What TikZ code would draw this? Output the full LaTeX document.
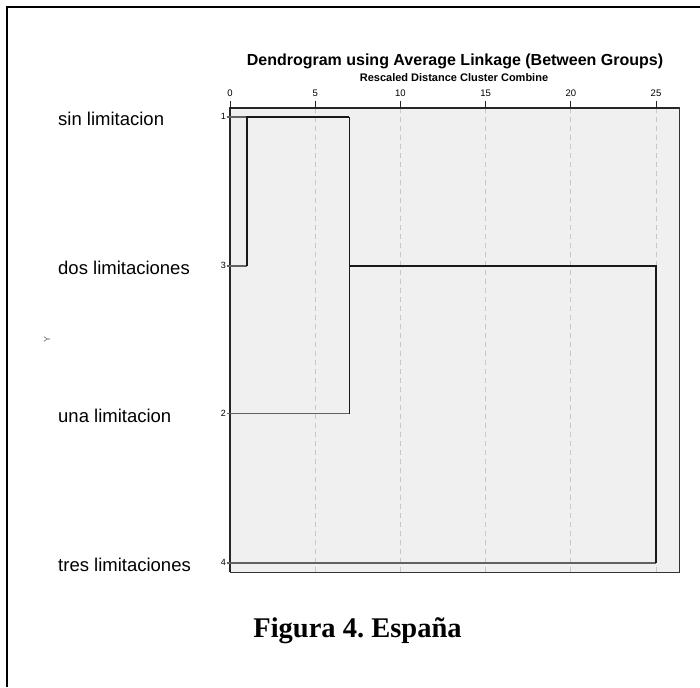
\documentclass[tikz,border=0pt]{standalone}
\usepackage{fontspec}
\setmainfont{Liberation Sans}
\newfontfamily\serifcap{Liberation Serif}
\definecolor{plotbg}{HTML}{F0F0F0}
\frenchspacing
\begin{document}
\begin{tikzpicture}[x=1pt,y=-1pt,
  leafline/.style={draw=black!62, line width=1.3pt},
  clusterline/.style={draw=black!90, line width=1.5pt},
  gridline/.style={draw=black!22, dash pattern=on 5pt off 4pt, line width=0.8pt},
  rowlabel/.style={anchor=base west, inner sep=0pt, font=\fontsize{18.5}{20}\selectfont},
  leafnum/.style={anchor=east, inner sep=0pt, font=\fontsize{9}{10}\selectfont},
  ticklabel/.style={anchor=base, inner sep=0pt, font=\fontsize{9.5}{10}\selectfont},
  tickmark/.style={draw=black!85, line width=1pt}]
\useasboundingbox (0,0) rectangle (700,687);
\fill[white] (0,0) rectangle (700,687);
% outer frame (top and left only)
\draw[line width=2.2pt] (7,687) -- (7,7) -- (700,7);

% plot area
\fill[plotbg] (230,108) rectangle (679,572);
\draw[black!80, line width=1pt] (230,108) rectangle (679,572);
\foreach \k in {5,10,15,20,25}{
  \draw[gridline] ({230+17.04*\k},108) -- ({230+17.04*\k},572);
}
\draw[black!85, line width=1.3pt] (230,572) -- (230,108) -- (679,108);
\foreach \k in {0,5,10,15,20,25}{
  \draw[tickmark] ({230+17.04*\k},101) -- ({230+17.04*\k},108);
  \node[ticklabel] (t\k) at ({230+17.04*\k},97) {\k};
}

% titles
\node[anchor=base, inner sep=0pt, font=\bfseries\fontsize{16}{18}\selectfont] (title) at (455,66) {Dendrogram using Average Linkage (Between Groups)};
\node[anchor=base, inner sep=0pt, font=\bfseries\fontsize{11}{12}\selectfont] (subtitle) at (454,82) {Rescaled Distance Cluster Combine};

% Y axis label
\node[rotate=90, inner sep=0pt, text=black!60, font=\fontsize{9}{10}\selectfont] (ylab) at (47,339) {Y};

% row labels
\node[rowlabel] (r1) at (58,126) {sin limitacion};
\node[rowlabel] (r3) at (58,274.5) {dos limitaciones};
\node[rowlabel] (r2) at (58,422.5) {una limitacion};
\node[rowlabel] (r4) at (58,571.5) {tres limitaciones};

% leaf numbers
\node[leafnum] (n1) at (226,116) {1};
\node[leafnum] (n3) at (226,265) {3};
\node[leafnum] (n2) at (226,413) {2};
\node[leafnum] (n4) at (226,562) {4};

% dendrogram coordinates
\coordinate (l1) at (226.5,117);
\coordinate (l3) at (226.5,266);
\coordinate (l2) at (226.5,413.5);
\coordinate (l4) at (226.5,563);
\coordinate (a1) at (247,117);
\coordinate (a3) at (247,266);
\coordinate (b1) at (349.3,117);
\coordinate (b2) at (349.3,413.5);
\coordinate (b3) at (349.3,266);
\coordinate (c3) at (656,266);
\coordinate (c4) at (656,563);

% leaf lines
\draw[leafline] (l1) -- (a1);
\draw[leafline] (l3) -- (a3);
\draw[leafline] (l2) -- (b2);
\draw[leafline] (l4) -- (c4);
% cluster lines
\draw[clusterline] (a3) -- (a1) -- (b1);
\draw[clusterline] (b1) -- (b2);
\draw[clusterline] (b3) -- (c3) -- (c4);

% caption
\node[anchor=base, inner sep=0pt, font=\serifcap\bfseries\fontsize{28.5}{30}\selectfont] (caption) at (357.5,637) {Figura 4. España};
\end{tikzpicture}
\end{document}
